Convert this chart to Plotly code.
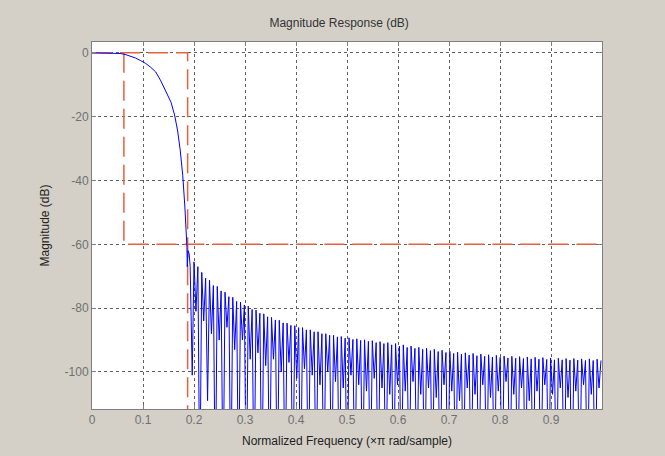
import plotly.graph_objects as go

# passband and transition band of the lowpass response
main_f = [0, 0.03, 0.045, 0.055, 0.065, 0.075, 0.085, 0.095, 0.105, 0.115, 0.125,
          0.135, 0.145, 0.155, 0.162, 0.168, 0.173, 0.178, 0.182, 0.1845, 0.1862,
          0.1868, 0.1885, 0.1905, 0.1925, 0.1965]
main_db = [0, 0, -0.05, -0.2, -0.5, -1.0, -1.6, -2.4, -3.3, -4.5, -6.0,
           -8.8, -12.3, -15.5, -19.5, -24.5, -30.5, -38.5, -48, -55, -61,
           -67, -62, -63, -67, -101]

# stopband sidelobes: peak frequency, peak level, following null level
lobe_f = [0.2000, 0.2076, 0.2152, 0.2228, 0.2304, 0.2380, 0.2456, 0.2532, 0.2608, 0.2684,
          0.2760, 0.2836, 0.2912, 0.2988, 0.3064, 0.3140, 0.3216, 0.3292, 0.3368, 0.3444,
          0.3520, 0.3596, 0.3672, 0.3748, 0.3824, 0.3900, 0.3976, 0.4052, 0.4128, 0.4204,
          0.4280, 0.4356, 0.4432, 0.4508, 0.4584, 0.4660, 0.4736, 0.4812, 0.4888, 0.4964,
          0.5040, 0.5116, 0.5192, 0.5268, 0.5344, 0.5420, 0.5496, 0.5572, 0.5648, 0.5724,
          0.5800, 0.5876, 0.5952, 0.6028, 0.6104, 0.6180, 0.6256, 0.6332, 0.6408, 0.6484,
          0.6560, 0.6636, 0.6712, 0.6788, 0.6864, 0.6940, 0.7016, 0.7092, 0.7168, 0.7244,
          0.7320, 0.7396, 0.7472, 0.7548, 0.7624, 0.7700, 0.7776, 0.7852, 0.7928, 0.8004,
          0.8080, 0.8156, 0.8232, 0.8308, 0.8384, 0.8460, 0.8536, 0.8612, 0.8688, 0.8764,
          0.8840, 0.8916, 0.8992, 0.9068, 0.9144, 0.9220, 0.9296, 0.9372, 0.9448, 0.9524,
          0.9600, 0.9676, 0.9752, 0.9828, 0.9904, 0.9980]
lobe_db = [-65.5, -67.0, -68.8, -70.6, -71.2, -72.9, -73.2, -74.6, -75.0, -76.4,
           -76.6, -77.9, -78.1, -79.0, -79.4, -80.4, -80.6, -81.6, -81.8, -82.7,
           -82.9, -83.7, -83.8, -84.6, -84.7, -85.4, -85.5, -86.1, -86.1, -86.8,
           -86.8, -87.4, -87.4, -88.0, -88.0, -88.5, -88.5, -89.0, -88.9, -89.4,
           -89.3, -89.8, -89.6, -90.1, -89.9, -90.4, -90.2, -90.8, -90.5, -91.1,
           -90.8, -91.5, -91.1, -91.9, -91.5, -92.3, -91.9, -92.6, -92.3, -92.9,
           -92.6, -93.3, -92.9, -93.6, -93.2, -93.9, -93.5, -94.2, -93.8, -94.4,
           -94.0, -94.7, -94.2, -94.9, -94.4, -95.1, -94.6, -95.3, -94.8, -95.4,
           -95.0, -95.6, -95.1, -95.7, -95.2, -95.8, -95.3, -95.9, -95.4, -96.0,
           -95.5, -96.1, -95.6, -96.2, -95.7, -96.2, -95.8, -96.3, -95.8, -96.3,
           -95.9, -96.4, -95.9, -96.4, -96.0, -96.4]
null_db = [-81, -140, -84, -109, -88, -140, -90, -140, -86, -140,
           -93, -140, -90, -140, -96, -140, -94, -140, -98, -140,
           -96, -140, -100, -140, -97, -140, -102, -140, -99, -140,
           -101, -140, -104, -140, -100, -140, -103, -140, -105, -140,
           -101, -140, -104, -140, -106, -140, -102, -140, -105, -140,
           -107, -140, -104, -140, -106, -140, -103, -140, -107, -140,
           -105, -140, -108, -140, -104, -140, -106, -140, -109, -140,
           -105, -140, -107, -140, -104, -140, -108, -140, -106, -140,
           -103, -140, -107, -140, -105, -140, -109, -140, -106, -140,
           -104, -140, -107, -140, -105, -140, -108, -140, -106, -140,
           -104, -140, -107, -140, -105]

# specification mask
mask_pass_f = [0, 0.1875, 0.1875]
mask_pass_db = [0, 0, -111.6]
mask_stop_f = [0.0625, 0.0625, 1.0]
mask_stop_db = [0, -60, -60]

# axis ticks
x_ticks = [0, 0.1, 0.2, 0.3, 0.4, 0.5, 0.6, 0.7, 0.8, 0.9]
x_labels = ["0", "0.1", "0.2", "0.3", "0.4", "0.5", "0.6", "0.7", "0.8", "0.9"]
y_ticks = [0, -20, -40, -60, -80, -100]
y_labels = ["0", "-20", "-40", "-60", "-80", "-100"]

x = list(main_f)
y = list(main_db)
for i in range(len(lobe_f)):
    x.append(lobe_f[i])
    y.append(lobe_db[i])
    if i < len(null_db):
        x.append((lobe_f[i] + lobe_f[i + 1]) / 2)
        y.append(null_db[i])

red = "#E8603C"
fig = go.Figure()
fig.add_trace(go.Scatter(x=mask_pass_f, y=mask_pass_db, mode="lines",
                         line=dict(color=red, width=1.5, dash="20px,8px"), hoverinfo="skip"))
fig.add_trace(go.Scatter(x=mask_stop_f, y=mask_stop_db, mode="lines",
                         line=dict(color=red, width=1.5, dash="20px,8px"), hoverinfo="skip"))
fig.add_trace(go.Scatter(x=x, y=y, mode="lines", line=dict(color="#0000FF", width=1)))

axis_common = dict(showline=True, linecolor="#7f7f7f", linewidth=1, mirror="ticks",
                   ticks="inside", ticklen=4, tickcolor="#7f7f7f",
                   showgrid=True, gridcolor="#606060", gridwidth=1, griddash="3px,3px",
                   zeroline=False, tickfont=dict(size=12, color="#707070"))

fig.update_layout(
    width=665, height=456,
    paper_bgcolor="#D4D0C8", plot_bgcolor="white",
    margin=dict(l=92, r=63, t=42, b=47),
    showlegend=False,
    font=dict(family="Liberation Sans, Arial, sans-serif", size=12, color="#222"),
    title=dict(text="Magnitude Response (dB)", x=0.51, xanchor="center",
               y=0.95, yanchor="middle", font=dict(size=12, color="#333")),
    xaxis=dict(range=[0, 1], tickvals=x_ticks, ticktext=x_labels,
               title=dict(text="Normalized Frequency (×π rad/sample)", standoff=10,
                          font=dict(size=12, color="#222")),
               automargin=False, **axis_common),
    yaxis=dict(range=[-111.6, 3.4], tickvals=y_ticks, ticktext=y_labels,
               title=dict(text="Magnitude (dB)", standoff=12, font=dict(size=12, color="#222")),
               automargin=False, **axis_common),
)

fig.write_html("out.html", config={"displayModeBar": False},
               post_script="document.body.style.margin='0';document.body.style.background='#D4D0C8';")
